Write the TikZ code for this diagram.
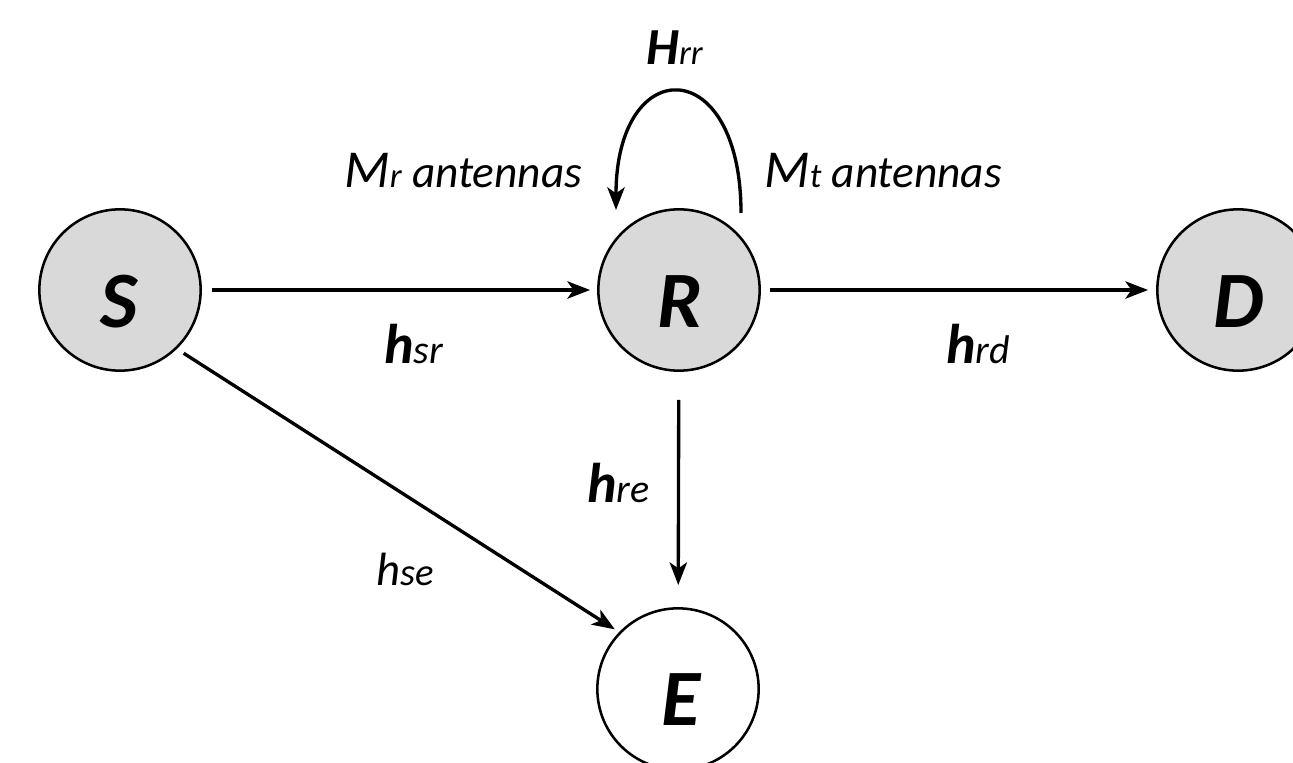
\documentclass[tikz,border=0pt]{standalone}
\usepackage{fontspec}
\setmainfont{Carlito}
\usetikzlibrary{arrows.meta}
\definecolor{nodegray}{HTML}{D9D9D9}
\newcommand\fs[1]{\fontsize{#1}{#1}\selectfont}
\begin{document}
\begin{tikzpicture}[x=0.75pt,y=-0.75pt,
  station/.style={circle,draw,line width=1.9pt,fill=nodegray,minimum size=121pt,inner sep=0pt},
  eaves/.style={circle,draw,line width=1.9pt,fill=white,minimum size=121pt,inner sep=0pt},
  letter/.style={inner sep=0pt,anchor=base,font=\fs{60}\bfseries\itshape},
  lab/.style={inner sep=0pt,anchor=base west},
  conn/.style={line width=2.5pt,-{Stealth[length=17pt,width=13pt,inset=4.5pt]}}]
\clip (0,0) rectangle (1293,763);
\useasboundingbox (0,0) rectangle (1293,763);
\node[station] (S) at (120,290) {};
\node[station] (R) at (679,290) {};
\node[station] (D) at (1238,290) {};
\node[eaves] (E) at (678,689) {};
\node[letter] (St) at (119,327) {S};
\node[letter] (Rt) at (680,327) {R};
\node[letter] (Dt) at (1239,327) {D};
\node[letter] (Et) at (681,725) {E};
\draw[conn,shorten <=7.5pt,shorten >=5.25pt] (S) -- (R);
\draw[conn,shorten <=6.75pt,shorten >=6pt] (R) -- (D);
\draw[conn,shorten <=21pt,shorten >=16.5pt] (R) -- (E);
\draw[conn,shorten <=6pt,shorten >=3.75pt] (S.-46) -- (E.136);
\coordinate (loopstart) at (741,213);
\coordinate (loopend) at (616,210);
\draw[conn] (loopstart) .. controls (741,52) and (616,52) .. (loopend);
\node[lab] (Hrr) at (646,65) {{\fs{39}\bfseries\itshape H}{\fs{26}\itshape rr}};
\node[lab] (Mr) at (344,188) {{\fs{40}\itshape M}{\fs{26}\itshape r}{\fs{34}\itshape\ antennas}};
\node[lab] (Mt) at (764,188) {{\fs{40}\itshape M}{\fs{26}\itshape t}{\fs{34}\itshape\ antennas}};
\node[lab] (hsr) at (384,363) {{\fs{42}\bfseries\itshape h}{\fs{30}\itshape sr}};
\node[lab] (hrd) at (946,363) {{\fs{42}\bfseries\itshape h}{\fs{30}\itshape rd}};
\node[lab] (hre) at (587,502) {{\fs{42}\bfseries\itshape h}{\fs{30}\itshape re}};
\node[lab] (hse) at (376,585) {{\fs{35}\itshape h}{\fs{29}\itshape se}};
\end{tikzpicture}
\end{document}
